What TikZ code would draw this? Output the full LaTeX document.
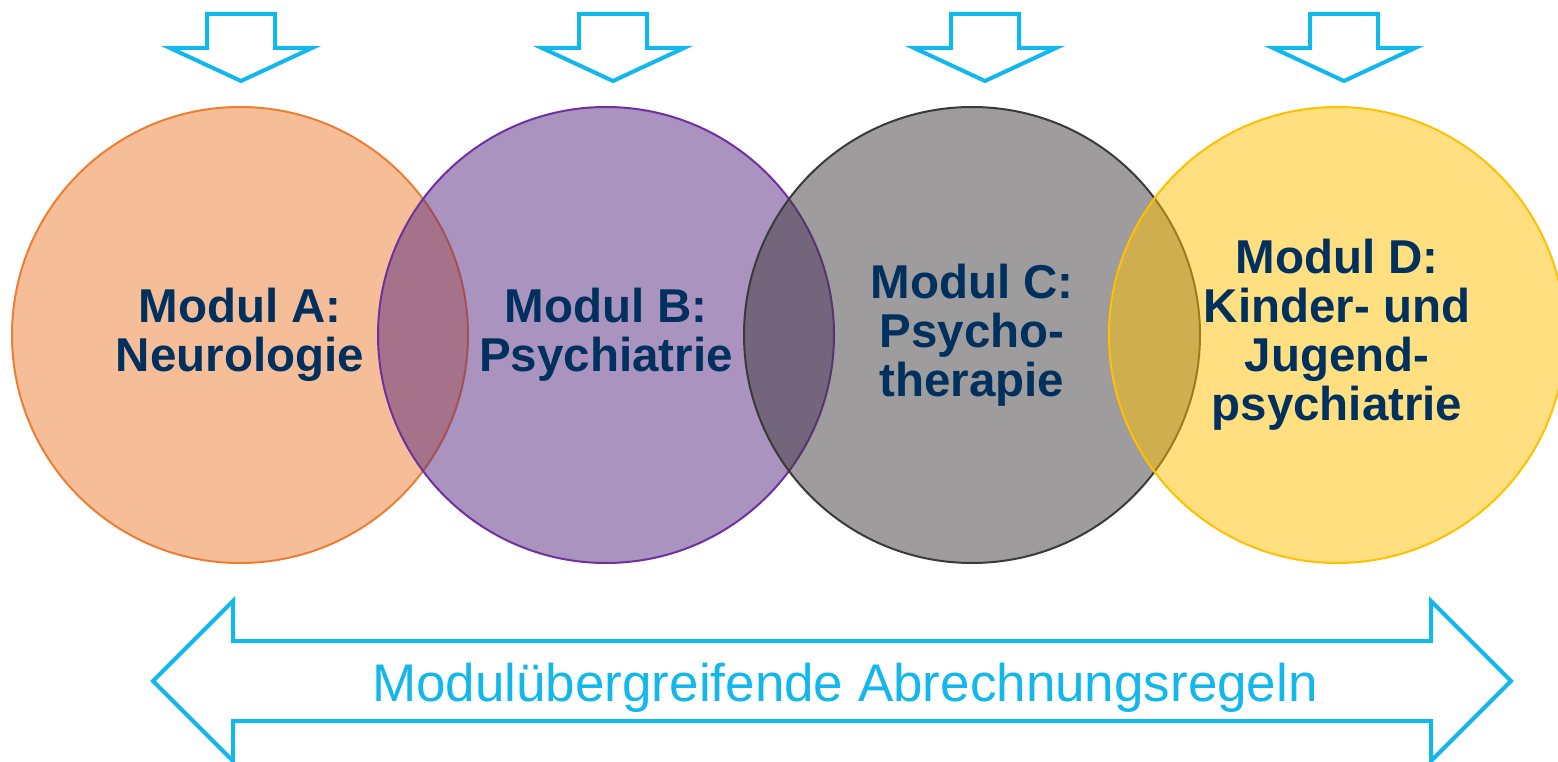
\documentclass[tikz,border=0pt]{standalone}
\usepackage{fontspec}
\setmainfont{Liberation Sans}
\definecolor{orangeA}{RGB}{237,125,49}
\definecolor{purpleB}{RGB}{85,40,125}
\definecolor{lineB}{RGB}{112,48,160}
\definecolor{greyC}{RGB}{62,58,60}
\definecolor{lineC}{RGB}{58,58,58}
\definecolor{goldD}{RGB}{255,192,0}
\definecolor{navytext}{RGB}{0,48,94}
\definecolor{cyanline}{RGB}{18,183,236}
\tikzset{%
    modul/.style={circle,inner sep=0pt,minimum size=456pt,line width=2pt,
        fill opacity=0.5,text opacity=1,align=center,text=navytext,
        font=\fontsize{47.5}{49}\selectfont\bfseries},
    blockarrow/.style={draw=cyanline,line width=4pt,line join=miter}
}

\begin{document}
\begin{tikzpicture}[x=1pt,y=-1pt]
        \useasboundingbox (0,0) rectangle (1558,762);

        \node[modul,draw=orangeA,fill=orangeA] (a) at (240,335) {Modul A:\\Neurologie};
        \node[modul,draw=lineB,fill=purpleB] (b) at (606,335) {Modul B:\\Psychiatrie};
        \node[modul,draw=lineC,fill=greyC] (c) at (972,335) {Modul C:\\Psycho-\\therapie};
        \node[modul,draw=goldD,fill=goldD] (d) at (1337,335) {Modul D:\\Kinder- und\\Jugend-\\psychiatrie};

        % arrows into the modules
        \draw[blockarrow] (207,14) -- (275,14) -- (275,48) -- (312,48) -- (241,81) -- (170,48) -- (207,48) -- cycle;
        \draw[blockarrow] (579,14) -- (647,14) -- (647,48) -- (684,48) -- (613,81) -- (542,48) -- (579,48) -- cycle;
        \draw[blockarrow] (951,14) -- (1019,14) -- (1019,48) -- (1056,48) -- (985,81) -- (914,48) -- (951,48) -- cycle;
        \draw[blockarrow] (1310,14) -- (1378,14) -- (1378,48) -- (1415,48) -- (1344,81) -- (1273,48) -- (1310,48) -- cycle;

        % double arrow below
        \draw[blockarrow] (153,681) -- (233,601) -- (233,641) -- (1431,641) -- (1431,601) -- (1511,681)
            -- (1431,761) -- (1431,721) -- (233,721) -- (233,761) -- cycle;
        \node[anchor=base,text=cyanline,font=\fontsize{53}{60}\selectfont] (regeln) at (845,701) {Modulübergreifende Abrechnungsregeln};
    \end{tikzpicture}
\end{document}
